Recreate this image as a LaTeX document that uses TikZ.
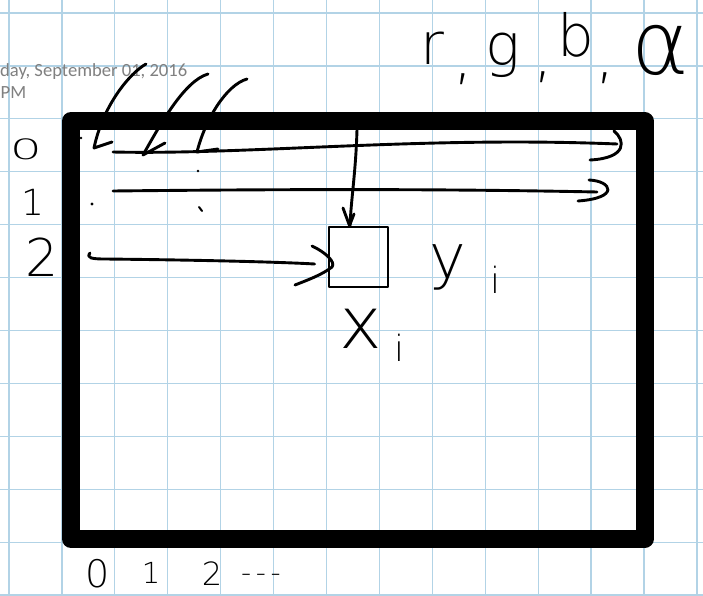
\documentclass[tikz,border=0pt]{standalone}
\usepackage{graphicx}
\usepackage{fontspec}
\IfFontExistsTF{DejaVu Sans ExtraLight}{\newfontfamily\hand{DejaVu Sans ExtraLight}}{\newfontfamily\hand{Fira Sans}}
\newfontfamily\calib{Carlito}
\usetikzlibrary{calc}
\definecolor{gridblue}{RGB}{178,211,230}
\definecolor{stampgray}{RGB}{128,128,128}
\begin{document}
\begin{tikzpicture}[x=1pt,y=-1pt,
  ink/.style={line width=2.9pt, line cap=round, line join=round},
  frame/.style={line width=18pt, line join=round},
  hw/.style={font=\hand\fontsize{#1}{#1}\selectfont, inner sep=0pt, anchor=base},
  stamp/.style={font=\calib\fontsize{18.6pt}{22pt}\selectfont, text=stampgray, inner sep=0pt, anchor=base west},
  gridline/.style={gridblue, line width=1.3pt}]
\useasboundingbox (0,0) rectangle (703,596);
\fill[white] (0,0) rectangle (703,596);
% grid paper
\foreach \i in {0,...,13} \draw[gridline] ({9+52.92*\i},0) -- ({9+52.92*\i},596);
\foreach \j in {0,...,11} \draw[gridline] (0,{13+52.92*\j}) -- (703,{13+52.92*\j});
% date stamp
\node[stamp] (date) at (0,77) {day, September 01, 2016};
\node[stamp] (time) at (0.5,99) {PM};
% image frame
\node[draw, frame, minimum width=573.5pt, minimum height=418pt, inner sep=0pt] (canvas) at (357.75,330) {};
% pixel
\node[draw, line width=2.9pt, line join=round, minimum width=59pt, minimum height=60pt, inner sep=0pt] (px) at (358.5,257) {};
% channel labels
\node[hw=58pt] (r) at (432,65) {r};
\node[hw=62pt] (c1) at (463,78) {,};
\node[hw=58pt] (g) at (503,66) {g};
\node[hw=62pt] (c2) at (543,76) {,};
\node[hw=58pt] (b) at (576,57) {b};
\node[hw=62pt] (c3) at (605,77) {,};
\node[hw=88pt] (alpha) at (660,75) {α};
% y_i, x_i
\node[hw=62pt] (y) at (448,278) {y};
\node[hw=36pt] (yi) at (495,293) {i};
\node[hw=72pt] (x) at (361,348) {x};
\node[hw=36pt] (xi) at (399,361) {i};
% row labels
\node[hw=28pt] (row0) at (26,160) {\scalebox{1.8}[1]{0}};
\node[hw=36pt] (row1) at (33,215) {1};
\node[hw=52pt] (row2) at (42,276) {2};
% column labels
\node[hw=38pt] (col0) at (98,587) {0};
\node[hw=29pt] (col1) at (151,583) {1};
\node[hw=32pt] (col2) at (212,585) {2};
\node[hw=28pt] (cold) at (261,582) {-\,-\,-};
% connector end points
\coordinate (r0s) at (113,152);
\coordinate (r0e) at (617,144);
\coordinate (r1s) at (113,191);
\coordinate (r1e) at (597,192);
\coordinate (r2s) at (90,253);
\coordinate (vtop) at (357,129);
\coordinate (a1s) at (146,64);
\coordinate (a1e) at (94,148);
\coordinate (a2s) at (208,74);
\coordinate (a2e) at (143,155);
\coordinate (a3s) at (247,79);
\coordinate (a3e) at (197,152);
% row 0 arrow
\draw[ink] (r0s) .. controls (250,155) and (420,136) .. (r0e);
\draw[ink] (614,131) .. controls (625,140) and (628,158) .. (590,160);
% row 1 arrow
\draw[ink] (r1s) .. controls (300,189) and (450,189) .. (r1e);
\draw[ink] (589,180) .. controls (612,181) and (620,198) .. (578,201);
% row 2 arrow into the pixel
\draw[ink] (r2s) .. controls (86,258) and (92,259) .. (105,259)
  .. controls (200,260) and (280,262) .. ([xshift=-13pt,yshift=-7pt]px.west);
\draw[ink] (312,246) .. controls (325,252) and (336,262) .. (332,267)
  .. controls (322,275) and (305,281) .. (295,285);
% vertical arrow into the pixel
\draw[ink] (vtop) .. controls (356,170) and (351,200) .. ([xshift=-8.5pt]px.north);
\draw[ink] (343,208) -- ([xshift=-9pt]px.north) -- (354,214);
% curved arrows to the channels
\draw[ink] (a1s) .. controls (130,73) and (103,105) .. (a1e) -- (112,142);
\draw[ink] (a2s) .. controls (184,81) and (160,125) .. (a2e) -- (165,143);
\draw[ink] (a3s) .. controls (226,85) and (205,120) .. (a3e) -- (218,149);
% stray dots
\fill (81,138) circle (1.4);
\fill (92,204) circle (1.6);
\fill (198,171) circle (1.4);
\draw[ink, line width=2pt] (199,207) -- (202,211);
\end{tikzpicture}
\end{document}
